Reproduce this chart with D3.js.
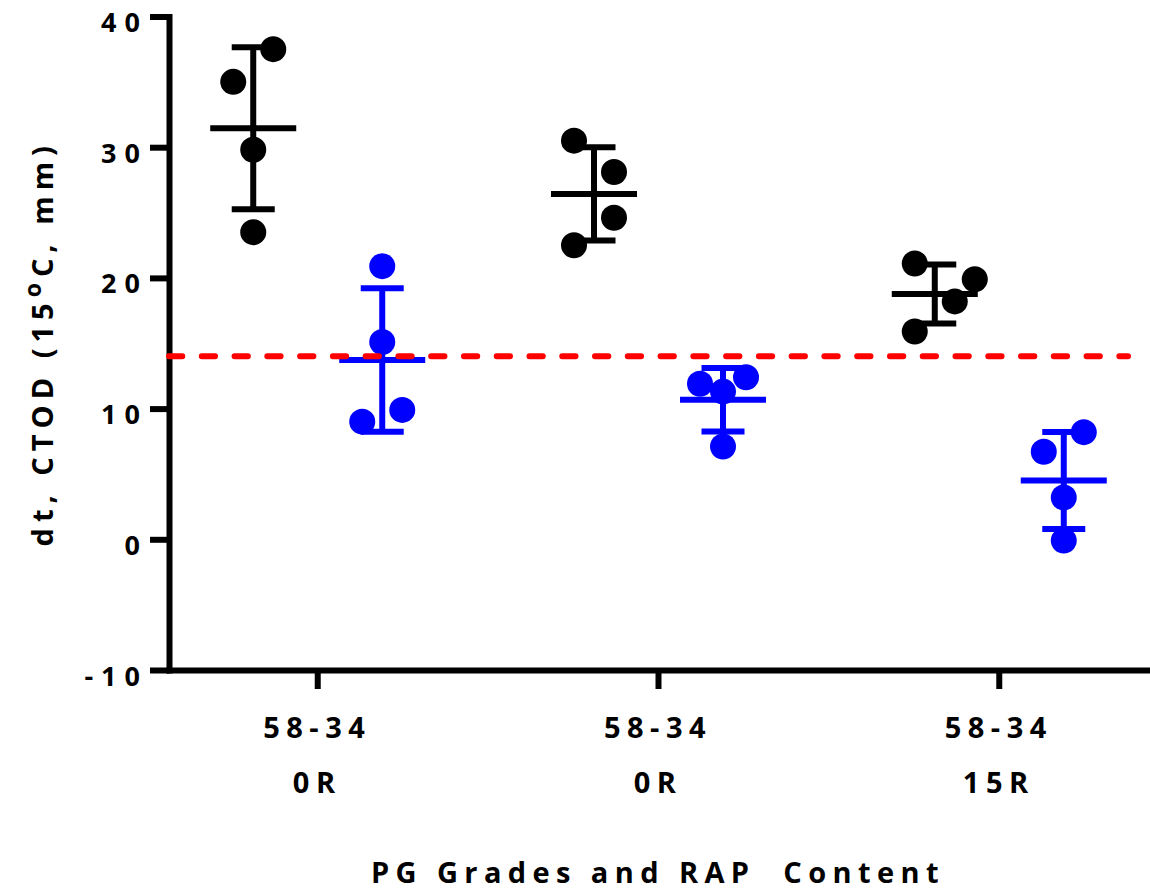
<!DOCTYPE html>
<html>
<head>
<meta charset="utf-8">
<script src="https://cdn.jsdelivr.net/npm/d3@7"></script>
<style>
  html, body { margin: 0; padding: 0; background: #fff; }
  svg { display: block; }
  text { font-family: "Open Sans", "DejaVu Sans", sans-serif; font-weight: 700; fill: #000; }
</style>
</head>
<body>
<svg id="chart" width="1150" height="890"></svg>
<script>
// ---- data ----
const gradeLabels = ["58-34", "58-34", "58-34"];
const rapLabels = ["0R", "0R", "15R"];
const seriesNames = ["Series A", "Series B"];

// individual CTOD replicates (mm), one row per category
const seriesA = [
  [37.5, 35.0, 29.8, 23.5],
  [30.5, 28.1, 24.6, 22.5],
  [21.1, 19.9, 18.2, 15.9]
];
const seriesB = [
  [20.9, 15.1, 9.9, 9.0],
  [11.9, 12.4, 11.3, 7.1],
  [8.2, 6.7, 3.2, -0.1]
];
// scatter lane of each replicate (side-by-side spreading of dots)
const lanesA = [
  [1, -1, 0, 0],
  [-1, 1, 1, -1],
  [-1, 2, 1, -1]
];
const lanesB = [
  [0, 0, 1, -1],
  [-1.15, 1.15, 0, 0],
  [1, -1, 0, 0]
];
const yTicks = [-10, 0, 10, 20, 30, 40];
const thresholds = [14];

// ---- layout ----
const svg = d3.select("#chart");
const colors = { "Series A": "#000000", "Series B": "#0000ff" };
const strokeW = 6;
const dotR = 13;
const laneStep = 20;
const meanHalf = 43;
const capHalf = 21.5;

const y = d3.scaleLinear().domain([-10, 40]).range([670, 16.5]);
const x = d3.scalePoint().domain(d3.range(gradeLabels.length)).range([169, 1147]).padding(0.435);
const sub = d3.scalePoint().domain(seriesNames).range([-64, 65]);

// ---- axes ----
const yAxis = svg.append("g")
  .attr("transform", `translate(${x.range()[0]},0)`)
  .call(d3.axisLeft(y).tickValues(yTicks).tickSize(19).tickSizeOuter(0).tickFormat(d => String(d)));
yAxis.select(".domain").attr("stroke-width", strokeW).attr("stroke-linecap", "square");
yAxis.selectAll(".tick line").attr("stroke-width", strokeW);
yAxis.selectAll(".tick text")
  .attr("x", -21)
  .attr("dy", null)
  .attr("y", 15)
  .style("font-size", "27px")
  .style("letter-spacing", "8px")
  .attr("text-anchor", "end");

const xAxis = svg.append("g")
  .attr("transform", `translate(0,${y(-10)})`)
  .call(d3.axisBottom(x).tickSize(19).tickSizeOuter(0).tickFormat(() => ""));
xAxis.select(".domain").attr("stroke-width", strokeW).attr("stroke-linecap", "square");
xAxis.selectAll(".tick line").attr("stroke-width", strokeW);
xAxis.selectAll(".tick text").remove();

const xLab = svg.append("g");
x.domain().forEach(i => {
  xLab.append("text")
    .attr("x", x(i)).attr("y", 738)
    .attr("text-anchor", "middle")
    .style("font-size", "29px").style("letter-spacing", "6.5px")
    .text(gradeLabels[i]);
  xLab.append("text")
    .attr("x", x(i)).attr("y", 793)
    .attr("text-anchor", "middle")
    .style("font-size", "29px").style("letter-spacing", "6.5px")
    .text(rapLabels[i]);
});

// axis titles
svg.append("text")
  .attr("x", x(1)).attr("y", 883)
  .attr("text-anchor", "middle")
  .style("font-size", "29px").style("letter-spacing", "6.4px")
  .style("white-space", "pre")
  .text("PG Grades and RAP  Content");

const yt = svg.append("text")
  .attr("transform", `translate(53,${(y(-10) + y(40)) / 2}) rotate(-90)`)
  .attr("text-anchor", "middle")
  .style("font-size", "29px").style("letter-spacing", "6px");
yt.append("tspan").text("dt, CTOD (15");
yt.append("tspan").attr("dy", -12).style("font-size", "23px").text("o");
yt.append("tspan").attr("dy", 12).text("C, mm)");

// ---- marks ----
const series = [
  { name: "Series A", values: seriesA, lanes: lanesA },
  { name: "Series B", values: seriesB, lanes: lanesB }
];
const marks = svg.append("g");
x.domain().forEach(i => {
  series.forEach(s => {
    const vals = s.values[i];
    const cx = x(i) + sub(s.name);
    const m = d3.mean(vals);
    const sd = d3.deviation(vals);
    const col = colors[s.name];
    const g = marks.append("g");
    // mean ± SD
    g.append("line").attr("x1", cx).attr("x2", cx).attr("y1", y(m + sd)).attr("y2", y(m - sd))
      .attr("stroke", col).attr("stroke-width", strokeW);
    [m + sd, m - sd].forEach(v => {
      g.append("line").attr("x1", cx - capHalf).attr("x2", cx + capHalf).attr("y1", y(v)).attr("y2", y(v))
        .attr("stroke", col).attr("stroke-width", strokeW);
    });
    g.append("line").attr("x1", cx - meanHalf).attr("x2", cx + meanHalf).attr("y1", y(m)).attr("y2", y(m))
      .attr("stroke", col).attr("stroke-width", strokeW);
    // replicate dots
    g.selectAll("circle").data(vals).join("circle")
      .attr("cx", (d, k) => cx + s.lanes[i][k] * laneStep)
      .attr("cy", d => y(d))
      .attr("r", dotR)
      .attr("fill", col);
  });
});

// threshold line
svg.append("g").selectAll("line").data(thresholds).join("line")
  .attr("x1", x.range()[0]).attr("x2", x.range()[1] - 19)
  .attr("y1", d => y(d)).attr("y2", d => y(d))
  .attr("stroke", "#ff0000").attr("stroke-width", strokeW)
  .attr("stroke-linecap", "round")
  .attr("stroke-dasharray", "13.3 19.47");
</script>
</body>
</html>
